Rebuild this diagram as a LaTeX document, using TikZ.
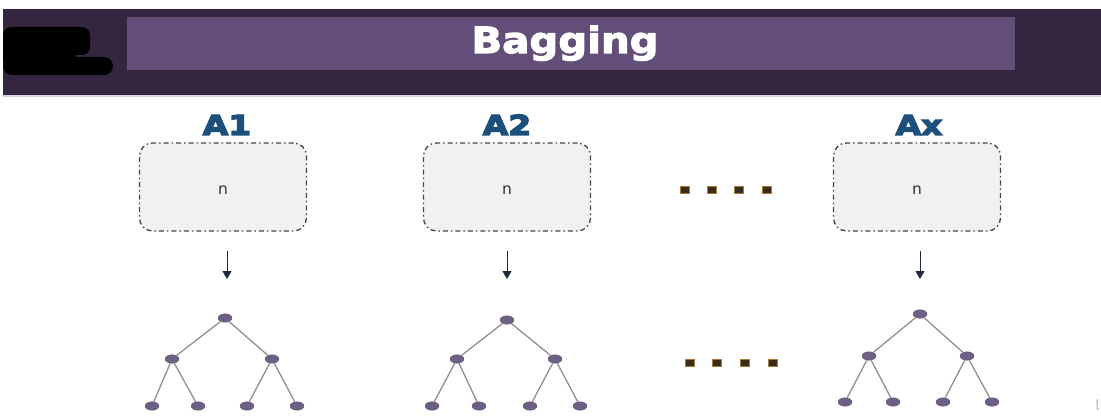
\documentclass[tikz,border=0pt]{standalone}
\usepackage{fontspec}
\setsansfont{DejaVu Sans}
\newfontfamily\titlefont[FakeBold=3,FakeStretch=1.12]{DejaVu Sans Bold}
\newfontfamily\labelfont[FakeBold=5,FakeStretch=1.2]{DejaVu Sans Bold}
\usetikzlibrary{arrows.meta,shapes.geometric}
\definecolor{bandbg}{HTML}{35263F}
\definecolor{bandbar}{HTML}{634E7A}
\definecolor{labelblue}{HTML}{1D4F7C}
\definecolor{boxfill}{HTML}{F1F1F4}
\definecolor{boxline}{HTML}{45454C}
\definecolor{treenode}{HTML}{6E6085}
\definecolor{edgegrey}{HTML}{909090}
\definecolor{arrowc}{HTML}{1E2A3C}
\definecolor{dotfill}{HTML}{3A2C1A}
\definecolor{dotrim}{HTML}{A57A3A}
\begin{document}
\begin{tikzpicture}[x=1pt,y=-1pt,
  title/.style={text=white,font=\titlefont\fontsize{36}{38}\selectfont,inner sep=0pt},
  setlabel/.style={text=labelblue,font=\labelfont\fontsize{27.5}{30}\selectfont,inner sep=0pt},
  samplebox/.style={draw=boxline,fill=boxfill,line width=1.3pt,rounded corners=13pt,
    dash pattern=on 5pt off 3pt on 1.5pt off 3pt,minimum width=167pt,minimum height=88pt},
  sampletext/.style={font=\sffamily\fontsize{15.5}{17}\selectfont,text=black!80,inner sep=0pt},
  downarrow/.style={draw=arrowc,line width=0.9pt,-{Triangle[length=8pt,width=9pt]}},
  tnode/.style={ellipse,fill=treenode,draw=treenode!80!black,line width=0.3pt,minimum width=14pt,minimum height=8.5pt,inner sep=0pt},
  tedge/.style={draw=edgegrey,line width=1.3pt},
  gapdot/.style={rectangle,fill=dotfill,draw=dotrim,line width=0.8pt,minimum width=9pt,minimum height=7pt,inner sep=0pt}
]
\useasboundingbox (0,0) rectangle (1101,417);
\fill[white] (0,0) rectangle (1101,417);

% header band
\fill[bandbg] (3,9) rectangle (1101,95);
\fill[bandbar] (127,17) rectangle (1015,70);
\fill[bandbar!25] (3,95) rectangle (1101,97);
\node[title,anchor=base] (title) at (565,53) {Bagging};

% dark mark at the left of the band
\fill[black,rounded corners=8pt] (3,27) rectangle (90,55);
\fill[black] (3,48) rectangle (76,62);
\fill[black,rounded corners=9pt] (3,57) rectangle (113,75);

% sample sets
\foreach \i/\cx/\lx/\lab in {1/223/227/A1, 2/507/507/A2, 3/917/919/Ax}{
  \node[setlabel,anchor=base] (lab\i) at (\lx,135) {\lab};
  \node[samplebox] (box\i) at (\cx,187) {};
  \node[sampletext,anchor=base] (txt\i) at (\cx,195) {n};
}

% arrows from sample to tree
\coordinate (as1) at (227,251); \coordinate (ae1) at (227,279);
\coordinate (as2) at (507,251); \coordinate (ae2) at (507,279);
\coordinate (as3) at (920,251); \coordinate (ae3) at (920,279);
\foreach \i in {1,2,3}{ \draw[downarrow] (as\i) -- (ae\i); }

% decision trees
\foreach \i/\rx/\ry/\ax/\bx/\my/\la/\lb/\lc/\ld/\ly in {
  1/225/318/172/272/359/152/198/247/297/406,
  2/507/320/457/555/359/432/479/530/580/406,
  3/920/314/869/967/356/845/893/943/992/402}{
  \node[tnode] (r\i) at (\rx,\ry) {};
  \node[tnode] (m\i a) at (\ax,\my) {};
  \node[tnode] (m\i b) at (\bx,\my) {};
  \node[tnode] (f\i a) at (\la,\ly) {};
  \node[tnode] (f\i b) at (\lb,\ly) {};
  \node[tnode] (f\i c) at (\lc,\ly) {};
  \node[tnode] (f\i d) at (\ld,\ly) {};
  \draw[tedge] (r\i) -- (m\i a);
  \draw[tedge] (r\i) -- (m\i b);
  \draw[tedge] (m\i a) -- (f\i a);
  \draw[tedge] (m\i a) -- (f\i b);
  \draw[tedge] (m\i b) -- (f\i c);
  \draw[tedge] (m\i b) -- (f\i d);
}

% ellipsis squares
\foreach \j/\x in {1/685,2/712,3/739,4/767}{ \node[gapdot] (dt\j) at (\x,190) {}; }
\foreach \j/\x in {1/690,2/717,3/745,4/773}{ \node[gapdot] (db\j) at (\x,363) {}; }

% stray corner mark
\node[text=gray!70,font=\sffamily\fontsize{11}{12}\selectfont,inner sep=0pt] (corner) at (1098,405) {[};
\end{tikzpicture}
\end{document}
